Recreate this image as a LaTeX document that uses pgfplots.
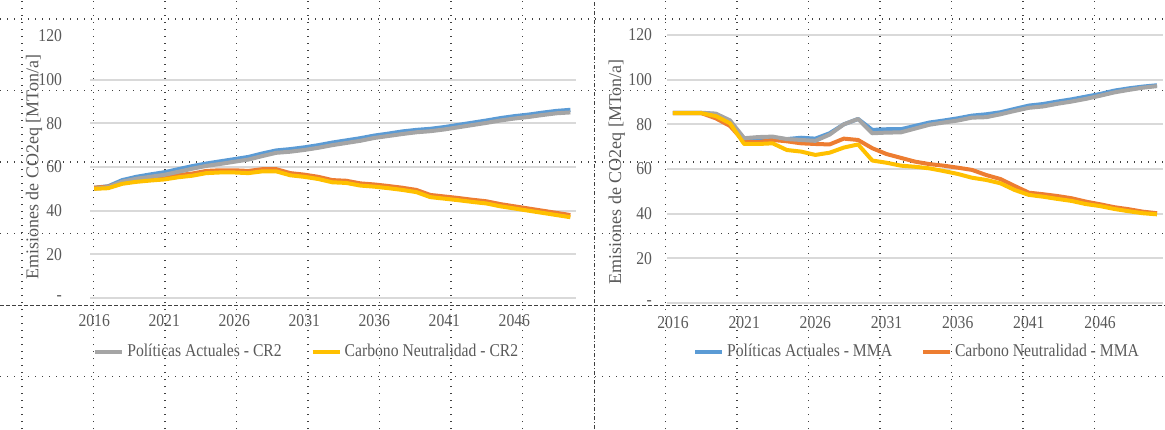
\documentclass[border=0pt]{standalone}
\usepackage{pgfplots}
\usepackage{pgfplotstable}
\pgfplotsset{compat=1.18}
\usepackage{fontspec}
\setmainfont{Liberation Serif}[FakeStretch=0.87]
\newfontfamily\ylabfont{Liberation Serif}
\definecolor{cblue}{HTML}{5B9BD5}
\definecolor{corange}{HTML}{ED7D31}
\definecolor{cgray}{HTML}{A5A5A5}
\definecolor{cyellow}{HTML}{FFC000}
\definecolor{gridc}{HTML}{D9D9D9}
\definecolor{txt}{HTML}{595959}

\pgfplotstableread{
year blue gray orange yellow
2016 50.5 50.0 50.5 50.0
2017 51.2 50.8 51.0 50.3
2018 54.0 53.3 53.0 52.3
2019 55.5 54.6 54.0 53.2
2020 56.6 55.5 54.8 53.8
2021 57.6 56.4 55.3 54.3
2022 59.0 57.8 56.3 55.3
2023 60.4 59.2 57.0 56.0
2024 61.6 60.5 58.2 57.2
2025 62.6 61.4 58.5 57.5
2026 63.6 62.4 58.5 57.5
2027 64.6 63.4 58.2 57.2
2028 66.2 65.0 59.0 58.0
2029 67.6 66.5 59.0 58.0
2030 68.2 67.0 57.2 56.2
2031 69.0 67.8 56.5 55.5
2032 70.0 68.8 55.5 54.5
2033 71.2 70.0 54.0 53.0
2034 72.2 71.0 53.7 52.7
2035 73.2 72.0 52.5 51.5
2036 74.4 73.3 52.0 51.0
2037 75.3 74.2 51.3 50.3
2038 76.3 75.1 50.5 49.5
2039 77.0 75.9 49.5 48.5
2040 77.5 76.4 47.2 46.2
2041 78.3 77.2 46.5 45.5
2042 79.3 78.2 45.8 44.8
2043 80.3 79.2 45.0 44.0
2044 81.3 80.2 44.3 43.3
2045 82.4 81.3 43.0 42.0
2046 83.3 82.2 42.0 41.0
2047 84.0 82.9 41.0 40.0
2048 84.9 83.8 40.0 39.0
2049 85.7 84.6 39.0 38.0
2050 86.2 85.0 38.0 37.0
}\leftdata

\pgfplotstableread{
year blue gray orange yellow
2016 85.0 85.2 85.0 85.0
2017 85.0 85.2 85.0 85.0
2018 85.0 85.2 85.0 85.0
2019 84.6 84.8 82.7 83.7
2020 81.5 81.8 79.3 80.5
2021 73.0 73.8 72.2 71.2
2022 73.2 74.3 72.0 71.2
2023 73.6 74.5 73.0 71.5
2024 73.4 73.4 72.4 68.5
2025 74.0 73.0 71.5 67.8
2026 73.6 72.6 71.2 66.3
2027 76.0 75.4 71.0 67.3
2028 80.0 80.0 73.6 69.6
2029 82.4 82.4 73.0 71.0
2030 77.5 76.0 69.3 63.8
2031 77.8 76.3 66.7 62.8
2032 77.8 76.4 65.0 61.5
2033 79.3 78.1 63.3 61.0
2034 80.8 79.8 62.2 60.3
2035 81.7 80.8 61.5 59.1
2036 82.7 81.7 60.6 57.8
2037 83.9 83.0 59.6 56.1
2038 84.5 83.2 57.3 55.1
2039 85.4 84.5 55.5 53.6
2040 86.9 86.0 52.4 50.6
2041 88.4 87.4 49.4 48.4
2042 89.1 88.0 48.7 47.6
2043 90.2 89.2 47.9 46.6
2044 91.2 90.2 46.9 45.7
2045 92.4 91.4 45.4 44.3
2046 93.6 92.8 44.2 43.4
2047 95.1 94.3 42.9 42.1
2048 96.1 95.4 42.0 41.1
2049 96.9 96.4 40.9 40.2
2050 97.5 97.1 40.2 39.7
}\rightdata

\pgfplotsset{
  panel/.style={
    scale only axis,
    axis line style={draw=none},
    ymin=0, ymax=120,
    ytick={0,20,40,60,80,100},
    yticklabels={-,20,40,60,80,100},
    extra y ticks={120},
    extra y tick labels={120},
    xtick={2016,2021,2026,2031,2036,2041,2046},
    xticklabels={2016,2021,2026,2031,2036,2041,2046},
    ymajorgrids,
    major grid style={gridc, line width=1pt},
    major tick length=0pt,
    tick style={draw=none},
    /pgf/number format/assume math mode=true,
    tick label style={font=\fontsize{9}{10}\selectfont, text=txt},
    yticklabel style={anchor=east},
    every axis plot/.append style={line width=2pt, line join=round, no markers},
    legend style={draw=none, fill=none, inner sep=0pt, legend columns=2,
      font=\fontsize{9}{10}\selectfont, text=txt,
      nodes={inner xsep=1.5pt, inner ysep=0pt},
      /tikz/every even column/.append style={column sep=13pt}},
    legend image code/.code={\draw[##1, line width=2pt] (0pt,0pt) -- (13.5pt,0pt);},
    clip=false,
  }
}

\begin{document}
\begin{tikzpicture}
\useasboundingbox (0,0) rectangle (582.5pt,214.5pt);
% background page grid (dotted)
\foreach \k in {0,...,16}{
  \ifnum\k=8
    \draw[black!75, line width=0.5pt, dash pattern=on 2pt off 1pt on 0.5pt off 1pt] ({(22+71.5*\k)*0.5pt},0) -- ({(22+71.5*\k)*0.5pt},214.5pt);
  \else
    \draw[black!75, line width=0.6pt, dash pattern=on 0.5pt off 3pt] ({(22+71.5*\k)*0.5pt},0) -- ({(22+71.5*\k)*0.5pt},214.5pt);
  \fi
}
\foreach \k in {0,...,5}{
  \ifnum\k=4
    \draw[black!75, line width=0.5pt, dash pattern=on 2pt off 1pt] (0,{(429-19-71.5*\k)*0.5pt}) -- (582.5pt,{(429-19-71.5*\k)*0.5pt});
  \else
    \draw[black!75, line width=0.6pt, dash pattern=on 0.5pt off 3pt] (0,{(429-19-71.5*\k)*0.5pt}) -- (582.5pt,{(429-19-71.5*\k)*0.5pt});
  \fi
}

% left panel
\begin{axis}[panel,
  at={(45pt,65.5pt)}, anchor=south west,
  width=243pt, height=131pt,
  xmin=2015.7, xmax=2050.4,
  extra y tick style={grid=none},
  yticklabel style={xshift=-10.5pt},
  xticklabel style={yshift=-4.5pt},
  ylabel={\ylabfont\fontsize{9}{10}\selectfont\color{txt}Emisiones de CO2eq [MTon/a]},
  ylabel style={at={(axis description cs:-0.115,0.5)}, anchor=center, rotate=0},
  legend style={at={(axis description cs:0.006,-0.206)}, anchor=west},
]
\addplot[cblue, forget plot] table[x=year, y=blue] {\leftdata};
\addplot[corange, forget plot] table[x=year, y=orange] {\leftdata};
\addplot[cgray] table[x=year, y=gray] {\leftdata};
\addplot[cyellow] table[x=year, y=yellow] {\leftdata};
\legend{Políticas Actuales - CR2, Carbono Neutralidad - CR2}
\end{axis}

% right panel
\begin{axis}[panel,
  at={(333.5pt,63pt)}, anchor=south west,
  width=248pt, height=134pt,
  xmin=2015.58, xmax=2050.42,
  extra y tick style={grid=major},
  yticklabel style={xshift=-4pt},
  xticklabel style={yshift=-3pt},
  ylabel={\ylabfont\fontsize{9}{10}\selectfont\color{txt}Emisiones de CO2eq [MTon/a]},
  ylabel style={at={(axis description cs:-0.101,0.49)}, anchor=center, rotate=0},
  legend style={at={(axis description cs:0.052,-0.183)}, anchor=west},
]
\addplot[cblue] table[x=year, y=blue] {\rightdata};
\addplot[corange] table[x=year, y=orange] {\rightdata};
\addplot[cgray, forget plot] table[x=year, y=gray] {\rightdata};
\addplot[cyellow, forget plot] table[x=year, y=yellow] {\rightdata};
\legend{Políticas Actuales - MMA, Carbono Neutralidad - MMA}
\end{axis}
\end{tikzpicture}
\end{document}
